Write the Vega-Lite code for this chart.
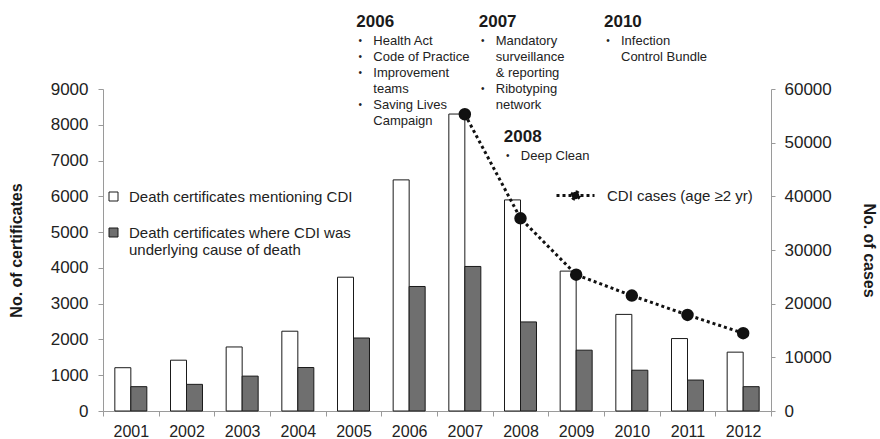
{
  "$schema": "https://vega.github.io/schema/vega-lite/v6.json",
  "width": 668,
  "height": 322,
  "autosize": "none",
  "padding": {"left": 103, "top": 89, "right": 109, "bottom": 28},
  "background": "white",
  "config": {
    "view": {"stroke": null},
    "font": "Liberation Sans",
    "axis": {"grid": false, "domainColor": "#9a9a9a", "tickColor": "#9a9a9a", "labelColor": "#222222", "titleColor": "#1a1a1a", "labelFont": "Liberation Sans", "titleFont": "Liberation Sans"},
    "legend": {"padding": 0, "labelFont": "Liberation Sans", "labelColor": "#222222", "labelFontSize": 15, "labelLimit": 0}
  },
  "datasets": {
    "certs": [
      {"year": "2001", "series": "Death certificates mentioning CDI", "certificates": 1210},
      {"year": "2001", "series": "Death certificates where CDI was underlying cause of death", "certificates": 680},
      {"year": "2002", "series": "Death certificates mentioning CDI", "certificates": 1420},
      {"year": "2002", "series": "Death certificates where CDI was underlying cause of death", "certificates": 745},
      {"year": "2003", "series": "Death certificates mentioning CDI", "certificates": 1790},
      {"year": "2003", "series": "Death certificates where CDI was underlying cause of death", "certificates": 975},
      {"year": "2004", "series": "Death certificates mentioning CDI", "certificates": 2230},
      {"year": "2004", "series": "Death certificates where CDI was underlying cause of death", "certificates": 1215},
      {"year": "2005", "series": "Death certificates mentioning CDI", "certificates": 3740},
      {"year": "2005", "series": "Death certificates where CDI was underlying cause of death", "certificates": 2040},
      {"year": "2006", "series": "Death certificates mentioning CDI", "certificates": 6460},
      {"year": "2006", "series": "Death certificates where CDI was underlying cause of death", "certificates": 3480},
      {"year": "2007", "series": "Death certificates mentioning CDI", "certificates": 8300},
      {"year": "2007", "series": "Death certificates where CDI was underlying cause of death", "certificates": 4040},
      {"year": "2008", "series": "Death certificates mentioning CDI", "certificates": 5900},
      {"year": "2008", "series": "Death certificates where CDI was underlying cause of death", "certificates": 2490},
      {"year": "2009", "series": "Death certificates mentioning CDI", "certificates": 3910},
      {"year": "2009", "series": "Death certificates where CDI was underlying cause of death", "certificates": 1700},
      {"year": "2010", "series": "Death certificates mentioning CDI", "certificates": 2700},
      {"year": "2010", "series": "Death certificates where CDI was underlying cause of death", "certificates": 1140},
      {"year": "2011", "series": "Death certificates mentioning CDI", "certificates": 2025},
      {"year": "2011", "series": "Death certificates where CDI was underlying cause of death", "certificates": 865},
      {"year": "2012", "series": "Death certificates mentioning CDI", "certificates": 1645},
      {"year": "2012", "series": "Death certificates where CDI was underlying cause of death", "certificates": 680}
    ],
    "cases": [
      {"year": "2007", "cases": 55300},
      {"year": "2008", "cases": 35900},
      {"year": "2009", "cases": 25400},
      {"year": "2010", "cases": 21500},
      {"year": "2011", "cases": 17900},
      {"year": "2012", "cases": 14500}
    ],
    "notes": [
      {"at": 2005.05, "level": 10870, "kind": "head", "text": "2006", "bullet": false},
      {"at": 2005.05, "level": 10350, "kind": "item", "text": "Health Act", "bullet": true},
      {"at": 2005.05, "level": 9900, "kind": "item", "text": "Code of Practice", "bullet": true},
      {"at": 2005.05, "level": 9450, "kind": "item", "text": "Improvement", "bullet": true},
      {"at": 2005.05, "level": 9000, "kind": "item", "text": "teams", "bullet": false},
      {"at": 2005.05, "level": 8550, "kind": "item", "text": "Saving Lives", "bullet": true},
      {"at": 2005.05, "level": 8100, "kind": "item", "text": "Campaign", "bullet": false},
      {"at": 2007.25, "level": 10870, "kind": "head", "text": "2007", "bullet": false},
      {"at": 2007.25, "level": 10350, "kind": "item", "text": "Mandatory", "bullet": true},
      {"at": 2007.25, "level": 9900, "kind": "item", "text": "surveillance", "bullet": false},
      {"at": 2007.25, "level": 9450, "kind": "item", "text": "& reporting", "bullet": false},
      {"at": 2007.25, "level": 9000, "kind": "item", "text": "Ribotyping", "bullet": true},
      {"at": 2007.25, "level": 8550, "kind": "item", "text": "network", "bullet": false},
      {"at": 2009.5, "level": 10870, "kind": "head", "text": "2010", "bullet": false},
      {"at": 2009.5, "level": 10350, "kind": "item", "text": "Infection", "bullet": true},
      {"at": 2009.5, "level": 9900, "kind": "item", "text": "Control Bundle", "bullet": false},
      {"at": 2007.7, "level": 7650, "kind": "head", "text": "2008", "bullet": false},
      {"at": 2007.7, "level": 7130, "kind": "item", "text": "Deep Clean", "bullet": true}
    ]
  },
  "layer": [
    {
      "layer": [
        {
          "data": {"name": "certs"},
          "mark": {"type": "bar", "stroke": "#1a1a1a", "strokeWidth": 1},
          "encoding": {
            "x": {
              "field": "year", "type": "ordinal",
              "scale": {"domain": ["2001","2002","2003","2004","2005","2006","2007","2008","2009","2010","2011","2012"], "paddingInner": 0, "paddingOuter": 0},
              "axis": {"title": null, "labelAngle": 0, "tickBand": "extent", "tickSize": 5, "labelPadding": 7, "labelFontSize": 16}
            },
            "xOffset": {
              "field": "series", "type": "nominal",
              "scale": {"domain": ["Death certificates mentioning CDI", "Death certificates where CDI was underlying cause of death"], "paddingInner": 0, "paddingOuter": 0.74}
            },
            "y": {
              "field": "certificates", "type": "quantitative",
              "scale": {"domain": [0, 9000], "nice": false},
              "axis": {"title": "No. of certificates", "format": "d", "values": [0,1000,2000,3000,4000,5000,6000,7000,8000,9000], "tickSize": 5, "labelPadding": 10, "labelFontSize": 17, "titleFontSize": 16, "titleFontWeight": "bold", "titlePadding": 26}
            },
            "fill": {
              "field": "series", "type": "nominal",
              "scale": {"domain": ["Death certificates mentioning CDI", "Death certificates where CDI was underlying cause of death"], "range": ["#ffffff", "#6f6f6f"]},
              "legend": {
                "title": null, "orient": "none", "legendX": 3, "legendY": 100,
                "symbolType": "square", "symbolSize": 81, "symbolStrokeColor": "#1a1a1a", "symbolStrokeWidth": 1,
                "labelOffset": 8, "rowPadding": 20,
                "labelExpr": "datum.label === 'Death certificates where CDI was underlying cause of death' ? ['Death certificates where CDI was', 'underlying cause of death'] : datum.label"
              }
            }
          }
        },
        {
          "data": {"name": "cases"},
          "mark": {"type": "line", "strokeDash": [3, 3], "strokeWidth": 3, "point": {"filled": true, "size": 110, "color": "#111111"}},
          "encoding": {
            "x": {"field": "year", "type": "ordinal"},
            "y": {
              "field": "cases", "type": "quantitative",
              "scale": {"domain": [0, 60000], "nice": false},
              "axis": {"orient": "right", "title": "No. of cases", "format": "d", "values": [0,10000,20000,30000,40000,50000,60000], "tickSize": 4, "labelPadding": 9, "labelFontSize": 17, "titleFontSize": 16, "titleFontWeight": "bold", "titlePadding": 29}
            },
            "stroke": {
              "datum": "CDI cases (age ≥2 yr)", "type": "nominal",
              "scale": {"range": ["#111111"]},
              "legend": {
                "title": null, "orient": "none", "legendX": 452, "legendY": 86,
                "symbolType": "M-1,0H1M-0.2,0A0.2,0.2 0 1,1 0.2,0A0.2,0.2 0 1,1 -0.2,0Z",
                "symbolSize": 1444, "symbolStrokeWidth": 3, "symbolDash": [3, 3],
                "symbolFillColor": "#111111", "symbolStrokeColor": "#111111",
                "labelOffset": 11
              }
            }
          }
        }
      ],
      "resolve": {"scale": {"y": "independent"}}
    },
    {
      "data": {"name": "notes"},
      "encoding": {
        "x": {"field": "at", "type": "quantitative", "scale": {"domain": [2000.5, 2012.5], "nice": false, "zero": false}, "axis": null},
        "y": {"field": "level", "type": "quantitative", "scale": {"domain": [0, 9000], "nice": false}, "axis": null}
      },
      "layer": [
        {
          "transform": [{"filter": "datum.kind === 'head'"}],
          "mark": {"type": "text", "align": "left", "baseline": "middle", "fontSize": 17, "fontWeight": "bold", "color": "#1a1a1a"},
          "encoding": {"text": {"field": "text"}}
        },
        {
          "transform": [{"filter": "datum.kind === 'item'"}],
          "mark": {"type": "text", "align": "left", "baseline": "middle", "dx": 17, "fontSize": 13, "color": "#222222"},
          "encoding": {"text": {"field": "text"}}
        },
        {
          "transform": [{"filter": "datum.bullet"}],
          "mark": {"type": "text", "align": "center", "baseline": "middle", "dx": 4, "fontSize": 10, "color": "#222222", "text": "•"}
        }
      ]
    }
  ],
  "resolve": {"scale": {"x": "independent", "y": "independent"}}
}
